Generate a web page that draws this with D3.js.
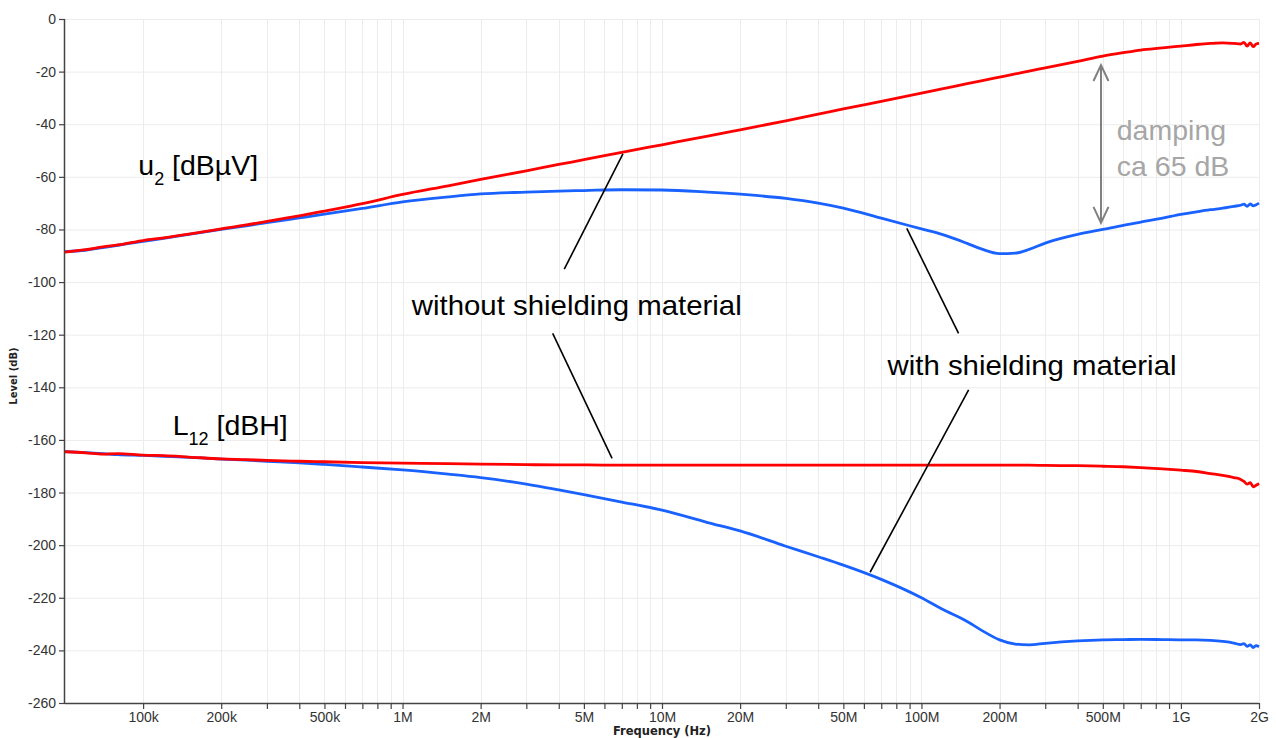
<!DOCTYPE html>
<html>
<head>
<meta charset="utf-8">
<script src="https://cdn.jsdelivr.net/npm/d3@7"></script>
<style>
  html, body { margin: 0; padding: 0; background: #fff; }
  svg { display: block; font-family: "Liberation Sans", Arial, sans-serif; }
</style>
</head>
<body>
<svg id="chart" width="1276" height="738"></svg>
<script>
// ---------------- DATA ----------------
const freqHz = [50e3, 60e3, 70e3, 80e3, 100e3, 120e3, 150e3, 200e3, 250e3, 300e3, 400e3, 500e3, 700e3,
  1e6, 1.5e6, 2e6, 3e6, 4e6, 5e6, 7e6, 10e6, 15e6, 20e6, 30e6, 40e6, 50e6, 70e6,
  100e6, 120e6, 150e6, 170e6, 200e6, 230e6, 260e6, 300e6, 400e6, 500e6, 600e6, 700e6, 850e6,
  1e9, 1.15e9, 1.3e9, 1.45e9, 1.6e9, 1.7e9, 1.75e9, 1.8e9, 1.85e9, 1.9e9, 1.95e9, 2e9];

// u2 [dBµV] without shielding material (red, upper)
const u2Without = [-88.6, -87.7, -86.6, -85.9, -84.2, -83.2, -81.8, -79.8, -78.3, -76.9, -74.8, -73.0, -70.2,
  -66.7, -63.4, -61.0, -57.7, -55.3, -53.5, -50.7, -47.8, -44.5, -42.1, -38.7, -36.2, -34.2, -31.3,
  -28.2, -26.6, -24.6, -23.5, -22.1, -20.9, -19.8, -18.6, -16.1, -14.1, -12.8, -11.8, -11.0,
  -10.3, -9.7, -9.3, -9.1, -9.3, -9.5, -8.9, -10.3, -9.1, -10.5, -9.5, -9.3];

// u2 [dBµV] with shielding material (blue, upper)
const u2With = [-88.4, -87.9, -86.9, -86.0, -84.5, -83.4, -81.9, -80.0, -78.6, -77.4, -75.6, -74.2, -72.0,
  -69.5, -67.6, -66.5, -65.8, -65.4, -65.2, -64.9, -65.0, -65.8, -66.6, -68.2, -70.0, -71.9, -75.7,
  -79.8, -81.9, -85.3, -87.4, -89.2, -89.0, -87.6, -85.2, -81.9, -80.0, -78.4, -77.2, -75.7,
  -74.3, -73.3, -72.5, -71.9, -71.2, -70.8, -70.4, -71.2, -70.3, -71.0, -70.6, -70.0];

// L12 [dBH] without shielding material (red, lower)
const l12Without = [-164.5, -164.9, -165.4, -165.2, -165.8, -166.0, -166.5, -167.2, -167.5, -167.8, -168.1, -168.3, -168.6,
  -168.8, -169.0, -169.2, -169.4, -169.5, -169.5, -169.6, -169.6, -169.6, -169.6, -169.6, -169.6, -169.6, -169.6,
  -169.6, -169.6, -169.6, -169.6, -169.6, -169.6, -169.6, -169.7, -169.8, -170.0, -170.2, -170.5, -171.0,
  -171.5, -172.0, -172.8, -173.5, -174.3, -175.0, -175.8, -176.8, -176.2, -177.8, -177.2, -176.6];

// L12 [dBH] with shielding material (blue, lower)
const l12With = [-164.4, -164.8, -165.2, -165.6, -165.9, -166.2, -166.6, -167.3, -167.7, -168.1, -168.7, -169.3, -170.3,
  -171.4, -173.0, -174.3, -176.8, -179.0, -180.8, -183.6, -186.7, -191.4, -194.6, -200.4, -204.4, -207.6, -213.0,
  -220.0, -224.3, -229.0, -232.3, -236.0, -237.6, -237.9, -237.3, -236.4, -236.0, -235.9, -235.8, -235.9,
  -236.0, -236.0, -236.2, -236.6, -237.2, -237.8, -237.4, -238.5, -237.9, -238.9, -238.2, -238.6];

const xMajorTicks = [100e3, 200e3, 500e3, 1e6, 2e6, 5e6, 10e6, 20e6, 50e6, 100e6, 200e6, 500e6, 1e9, 2e9];
const xMajorLabels = ["100k", "200k", "500k", "1M", "2M", "5M", "10M", "20M", "50M", "100M", "200M", "500M", "1G", "2G"];
const xMinorTicks = [300e3, 400e3, 600e3, 700e3, 800e3, 900e3,
  3e6, 4e6, 6e6, 7e6, 8e6, 9e6,
  30e6, 40e6, 60e6, 70e6, 80e6, 90e6,
  300e6, 400e6, 600e6, 700e6, 800e6, 900e6];
const yTicks = [0, -20, -40, -60, -80, -100, -120, -140, -160, -180, -200, -220, -240, -260];

// annotations in data units [freq, dB]
const leaderLines = [
  [[4.2e6, -95.1], [7.07e6, -51.3]],
  [[3.79e6, -119.5], [6.42e6, -167.0]],
  [[87.8e6, -79.6], [139e6, -119.5]],
  [[152e6, -141.0], [63.4e6, -210.3]]
];
const dampingArrow = { f: 492e6, top: -17.5, bottom: -77.5 };

// ---------------- CHART ----------------
const W = 1276, H = 738;
const margin = { left: 65, right: 17, top: 19, bottom: 35 };
const svg = d3.select("#chart");

const x = d3.scaleLog().domain([50e3, 2e9]).range([margin.left, W - margin.right]);
const y = d3.scaleLinear().domain([-260, 0]).range([H - margin.bottom, margin.top]);

// grid
const grid = svg.append("g").attr("stroke", "#ececec").attr("stroke-width", 1);
grid.selectAll("line.h").data(yTicks.filter(d => d !== -260)).join("line")
  .attr("x1", margin.left).attr("x2", W - margin.right)
  .attr("y1", d => y(d) + 0.5).attr("y2", d => y(d) + 0.5);
grid.selectAll("line.v").data(xMajorTicks.concat(xMinorTicks)).join("line")
  .attr("x1", d => Math.round(x(d)) + 0.5).attr("x2", d => Math.round(x(d)) + 0.5)
  .attr("y1", margin.top).attr("y2", H - margin.bottom);

// axes
const allX = xMajorTicks.concat(xMinorTicks).sort((a, b) => a - b);
const xAxis = d3.axisBottom(x).tickValues(allX).tickSize(6).tickPadding(3)
  .tickFormat(d => { const i = xMajorTicks.indexOf(d); return i >= 0 ? xMajorLabels[i] : ""; });
const gx = svg.append("g").attr("transform", `translate(0,${H - margin.bottom})`).call(xAxis);
gx.select(".domain").attr("stroke", "#444").attr("stroke-width", 1.5)
  .attr("d", `M${margin.left},0.5H${W - margin.right}`);
gx.selectAll(".tick line").attr("stroke", "#444").attr("stroke-width", 1.2);
gx.selectAll(".tick text").attr("fill", "#333").style("font-size", "14px")
  .style("font-family", "'Liberation Sans', Arial, sans-serif");

const yAxis = d3.axisLeft(y).tickValues(yTicks).tickSize(6).tickPadding(3).tickFormat(d => d);
const gy = svg.append("g").attr("transform", `translate(${margin.left},0)`).call(yAxis);
gy.select(".domain").attr("stroke", "#444").attr("stroke-width", 1.5)
  .attr("d", `M-0.5,${margin.top}V${H - margin.bottom}`);
gy.selectAll(".tick line").attr("stroke", "#444").attr("stroke-width", 1.2);
gy.selectAll(".tick text").attr("fill", "#333").style("font-size", "14px")
  .style("font-family", "'Liberation Sans', Arial, sans-serif");

// axis titles
svg.append("text").attr("x", (margin.left + W - margin.right) / 2).attr("y", 735)
  .attr("text-anchor", "middle").attr("font-weight", "bold").attr("font-size", 11.5)
  .style("font-family", "'DejaVu Sans', Verdana, sans-serif")
  .attr("fill", "#222").text("Frequency (Hz)");
svg.append("text").attr("transform", `translate(17,${(margin.top + H - margin.bottom) / 2 + 15}) rotate(-90)`)
  .attr("text-anchor", "middle").attr("font-weight", "bold").attr("font-size", 10)
  .style("font-family", "'DejaVu Sans', Verdana, sans-serif")
  .attr("fill", "#222").text("Level (dB)");

// curves
const line = d3.line().x(d => x(d[0])).y(d => y(d[1])).curve(d3.curveMonotoneX);
const series = [
  { v: u2With, c: "#1a62ff" },
  { v: u2Without, c: "#ff0000" },
  { v: l12With, c: "#1a62ff" },
  { v: l12Without, c: "#ff0000" }
];
svg.append("g").selectAll("path").data(series).join("path")
  .attr("fill", "none").attr("stroke", d => d.c).attr("stroke-width", 2.8)
  .attr("stroke-linejoin", "round")
  .attr("d", d => line(freqHz.map((f, i) => [f, d.v[i]])));

// leader lines
svg.append("g").selectAll("line").data(leaderLines).join("line")
  .attr("x1", d => x(d[0][0])).attr("y1", d => y(d[0][1]))
  .attr("x2", d => x(d[1][0])).attr("y2", d => y(d[1][1]))
  .attr("stroke", "#000").attr("stroke-width", 1.6);

// damping arrow
const ax = x(dampingArrow.f), ay1 = y(dampingArrow.top), ay2 = y(dampingArrow.bottom);
const arr = svg.append("g").attr("stroke", "#808080").attr("stroke-width", 2).attr("fill", "none");
arr.append("line").attr("x1", ax).attr("x2", ax).attr("y1", ay1).attr("y2", ay2);
arr.append("path").attr("d", `M${ax - 7.5},${ay1 + 16}L${ax},${ay1}L${ax + 7.5},${ay1 + 16}`);
arr.append("path").attr("d", `M${ax - 7.5},${ay2 - 16}L${ax},${ay2}L${ax + 7.5},${ay2 - 16}`);

// text annotations
const fs = 28.5;
svg.append("text").attr("x", x(1.085e6)).attr("y", y(-112.5)).attr("font-size", fs)
  .attr("textLength", 330).attr("lengthAdjust", "spacingAndGlyphs").attr("fill", "#000")
  .text("without shielding material");
svg.append("text").attr("x", x(74e6)).attr("y", y(-135.3)).attr("font-size", fs)
  .attr("textLength", 289).attr("lengthAdjust", "spacingAndGlyphs").attr("fill", "#000")
  .text("with shielding material");

const t1 = svg.append("text").attr("x", x(95.8e3)).attr("y", y(-59.3)).attr("font-size", fs).attr("fill", "#000");
t1.append("tspan").text("u");
t1.append("tspan").attr("font-size", 18).attr("dy", 9.5).text("2");
t1.append("tspan").attr("dy", -9.5).text(" [dBµV]");

const t2 = svg.append("text").attr("x", x(130e3)).attr("y", y(-158.1)).attr("font-size", fs).attr("fill", "#000");
t2.append("tspan").text("L");
t2.append("tspan").attr("font-size", 18).attr("dy", 10).text("12");
t2.append("tspan").attr("dy", -10).text(" [dBH]");

svg.append("text").attr("x", x(566e6)).attr("y", y(-46)).attr("font-size", fs).attr("fill", "#a6a6a6").text("damping");
svg.append("text").attr("x", x(566e6)).attr("y", y(-59.7)).attr("font-size", fs).attr("fill", "#a6a6a6").text("ca 65 dB");
</script>
</body>
</html>
